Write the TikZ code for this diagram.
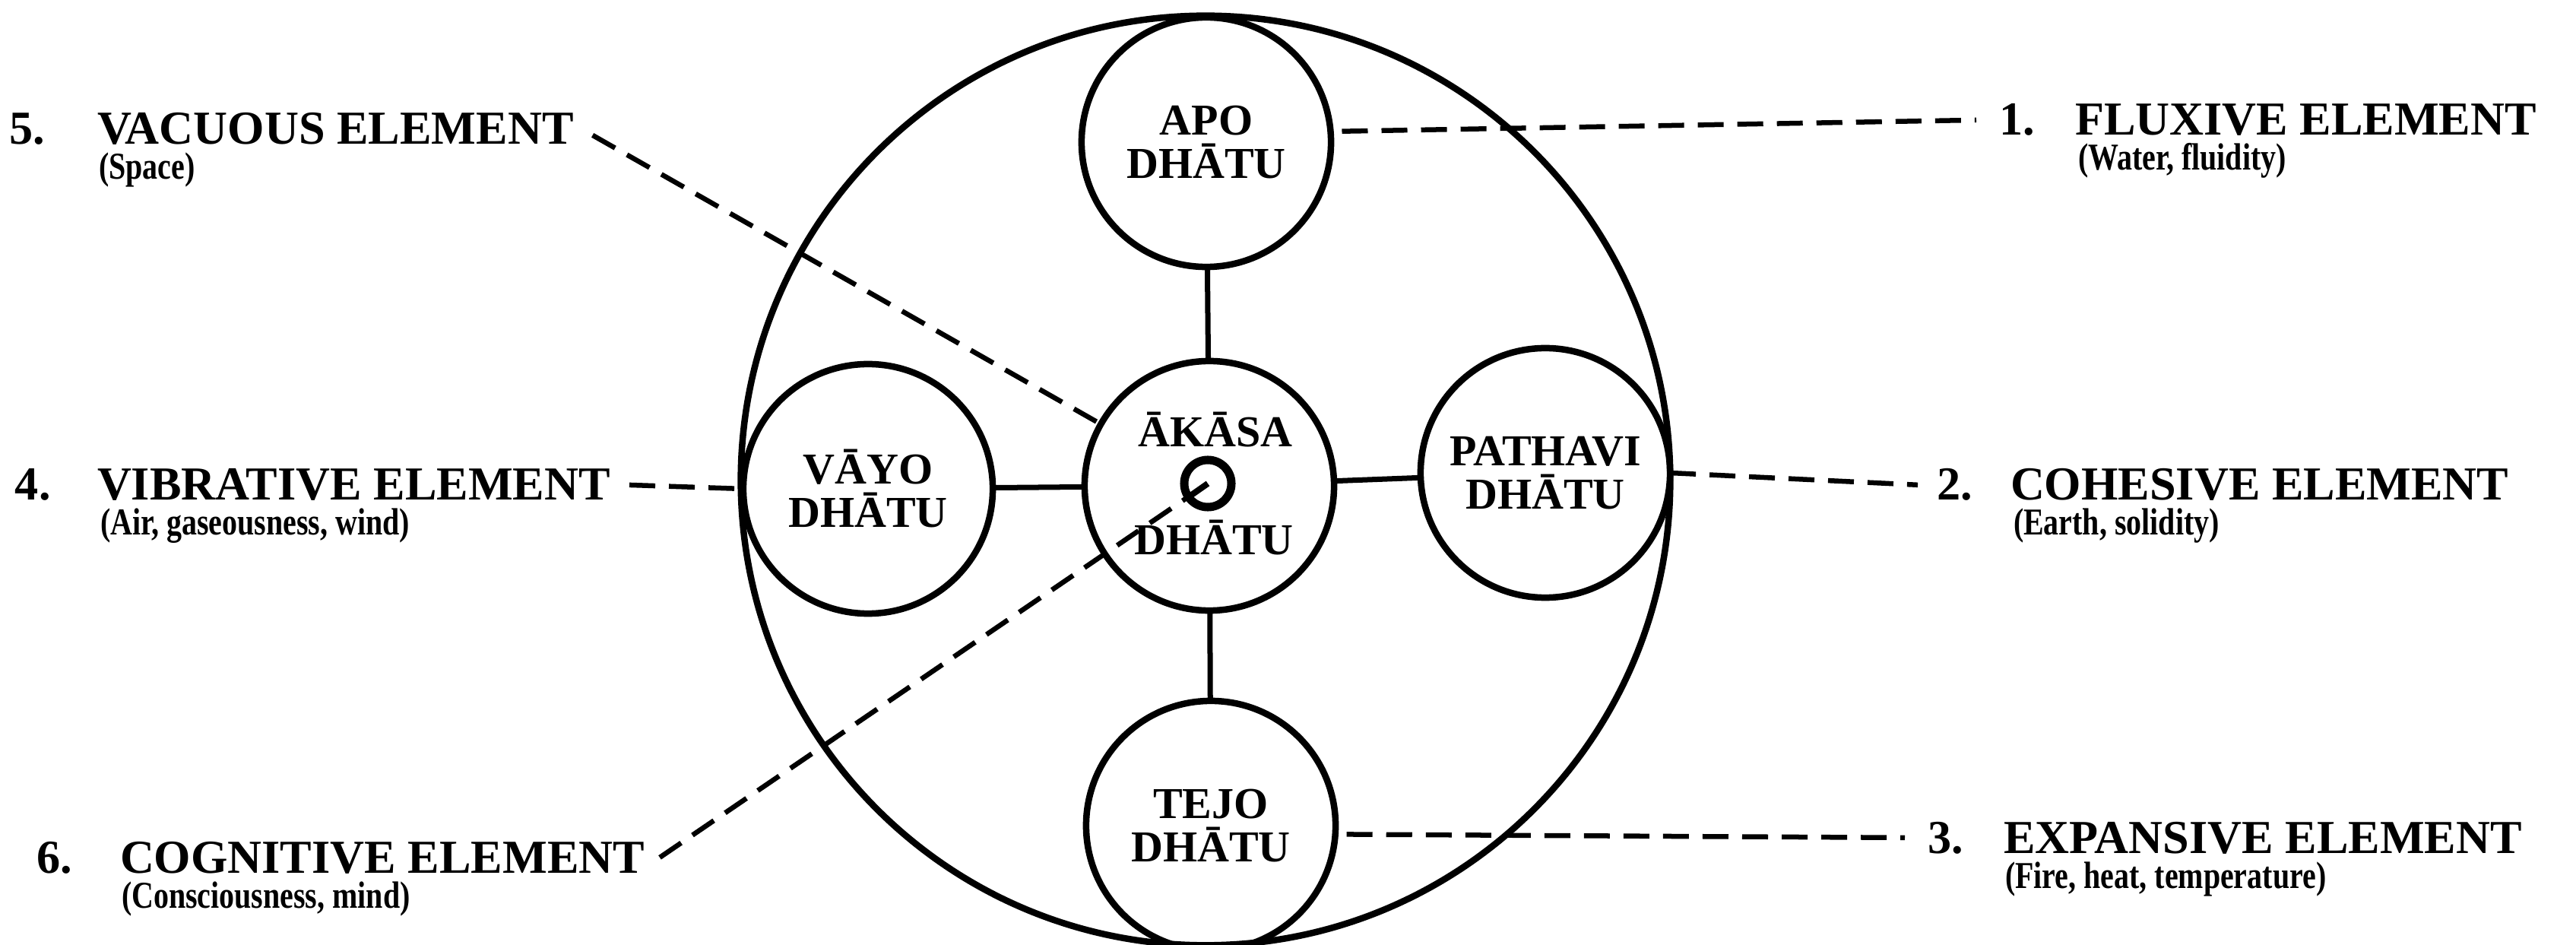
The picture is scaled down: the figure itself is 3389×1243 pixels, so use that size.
\documentclass[tikz,border=0pt]{standalone}
\usepackage{fontspec}
\setmainfont{Liberation Serif}
\newfontfamily\subfont[FakeStretch=0.8]{Liberation Serif}
\begin{document}
\begin{tikzpicture}[x=0.01cm,y=-0.01cm,
 every node/.style={inner sep=0pt, outer sep=0pt},
 ring/.style={draw, circle, line width=0.085cm, minimum size=3.28cm, align=center, font=\fontsize{16.5}{16.2}\selectfont\bfseries},
 bigring/.style={draw, circle, line width=0.085cm, minimum size=12.22cm},
 lbl/.style={font=\fontsize{16.5}{16.2}\selectfont\bfseries, anchor=base},
 num/.style={font=\fontsize{17.7}{20}\selectfont\bfseries, anchor=base west},
 head/.style={font=\fontsize{17.7}{20}\selectfont\bfseries, anchor=base west},
 sub/.style={font=\subfont\fontsize{14.2}{16}\selectfont\bfseries, anchor=base west},
 link/.style={line width=0.07cm},
 leader/.style={line width=0.065cm, dash pattern=on 0.34cm off 0.18cm},
]
\useasboundingbox (0,0) rectangle (3389,1243);
\fill[white] (0,0) rectangle (3389,1243);

\node[bigring] (outer) at (1586,632) {};
\node[ring] (apo) at (1587,187) {APO\\DHĀTU};
\node[ring] (akasa) at (1591,639) {};
\node[ring] (vayo) at (1142,643) {VĀYO\\DHĀTU};
\node[ring] (pathavi) at (2033,622) {PATHAVI\\DHĀTU};
\node[ring] (tejo) at (1593,1086) {TEJO\\DHĀTU};
\node[lbl] (akt) at (1599,588) {ĀKĀSA};
\node[lbl] (akb) at (1597,730) {DHĀTU};
\node[draw, circle, line width=0.11cm, minimum size=0.62cm] (eye) at (1589,636) {};
\draw[line width=0.08cm] (eye.center) -- (eye.215);

\draw[link] (apo) -- (akasa);
\draw[link] (akasa) -- (vayo);
\draw[link] (akasa) -- (pathavi);
\draw[link] (akasa) -- (tejo);

% right labels
\node[num] (n1) at (2630,178) {1.};
\node[head] (h1) at (2730,178) {FLUXIVE ELEMENT};
\node[sub] (s1) at (2734,224) {(Water, fluidity)};
\node[num] (n2) at (2548,658) {2.};
\node[head] (h2) at (2645,658) {COHESIVE ELEMENT};
\node[sub] (s2) at (2649,704) {(Earth, solidity)};
\node[num] (n3) at (2536,1122) {3.};
\node[head] (h3) at (2636,1122) {EXPANSIVE ELEMENT};
\node[sub] (s3) at (2638,1168) {(Fire, heat, temperature)};

% left labels
\node[num] (n4) at (20,658) {4.};
\node[head] (h4) at (128,658) {VIBRATIVE ELEMENT};
\node[sub] (s4) at (132,704) {(Air, gaseousness, wind)};
\node[num] (n5) at (12,190) {5.};
\node[head] (h5) at (128,190) {VACUOUS ELEMENT};
\node[sub] (s5) at (130,236) {(Space)};
\node[num] (n6) at (48,1148) {6.};
\node[head] (h6) at (158,1148) {COGNITIVE ELEMENT};
\node[sub] (s6) at (160,1194) {(Consciousness, mind)};

% leaders
\draw[leader] ([xshift=0.15cm]apo.5) -- ([xshift=-0.3cm]n1.west);
\draw[leader] (pathavi.east) -- ([xshift=-0.25cm]n2.west);
\draw[leader] ([xshift=0.15cm]tejo.-4) -- ([xshift=-0.3cm]n3.west);
\draw[leader] ([xshift=0.25cm]h4.east) -- (vayo.west);
\draw[leader] ([xshift=0.25cm,yshift=-0.08cm]h5.east) -- (akasa);
\draw[leader] ([xshift=0.2cm]h6.east) -- (eye);
\end{tikzpicture}
\end{document}
